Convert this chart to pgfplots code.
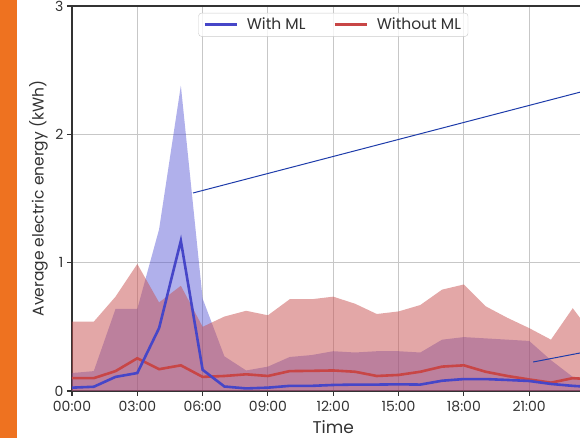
\documentclass[border=0pt]{standalone}
\usepackage{pgfplots}
\pgfplotsset{compat=1.18}
\usepackage{fontspec}
\setmainfont{Poppins}
\definecolor{mlblue}{RGB}{70,70,200}
\definecolor{mlred}{RGB}{200,70,70}
\definecolor{bandblue}{RGB}{80,80,210}
\definecolor{bandred}{RGB}{200,80,80}
\definecolor{annot}{RGB}{30,60,170}
\definecolor{barorange}{RGB}{238,114,32}
\definecolor{txt}{RGB}{50,50,50}

\pgfplotstableread{
h   bm     bu     rm     ru
0   0.026  0.14   0.10   0.54
1   0.033  0.155  0.10   0.54
2   0.11   0.64   0.155  0.735
3   0.14   0.64   0.255  0.99
4   0.49   1.26   0.17   0.69
5   1.17   2.38   0.20   0.82
6   0.165  0.72   0.11   0.50
7   0.035  0.27   0.117  0.58
8   0.02   0.16   0.13   0.625
9   0.026  0.19   0.117  0.59
10  0.04   0.265  0.155  0.715
11  0.04   0.28   0.157  0.715
12  0.047  0.31   0.16   0.735
13  0.05   0.30   0.15   0.68
14  0.05   0.31   0.117  0.60
15  0.052  0.31   0.125  0.62
16  0.05   0.30   0.15   0.67
17  0.08   0.40   0.19   0.79
18  0.093  0.42   0.20   0.83
19  0.093  0.41   0.15   0.66
20  0.086  0.40   0.117  0.57
21  0.078  0.39   0.09   0.49
22  0.055  0.24   0.065  0.40
23  0.04   0.11   0.10   0.645
24  0.03   0.08   0.09   0.42
}\data

\begin{document}
\begin{tikzpicture}
\useasboundingbox (-72pt,-47pt) rectangle (508pt,391pt);
\clip (-72pt,-47pt) rectangle (508pt,391pt);
\fill[barorange] (-72pt,-47pt) rectangle (-55pt,391pt);
\begin{axis}[
  scale only axis, width=522.5pt, height=385pt,
  xmin=0, xmax=24, ymin=0, ymax=3,
  xtick={0,3,...,21},
  xticklabels={00:00,03:00,06:00,09:00,12:00,15:00,18:00,21:00},
  ytick={0,1,2,3},
  grid=major,
  grid style={line width=1.1pt, color=black!22},
  axis line style={line width=1.3pt, color=black!80},
  tick style={line width=1.1pt, color=black!80},
  tick align=outside, tick pos=left, major tick length=5pt,
  /pgf/number format/assume math mode=true,
  ticklabel style={font=\fontsize{14}{16}\selectfont, text=txt},
  xticklabel style={yshift=-2pt},
  xlabel={Time}, ylabel={Average electric energy (kWh)},
  xlabel style={font=\fontsize{17}{20}\selectfont, text=txt, yshift=-2pt},
  ylabel style={font=\fontsize{15.5}{18}\selectfont, text=txt},
  legend style={at={(0.5,0.982)}, anchor=north, legend columns=2,
    draw=black!20, rounded corners=3pt, fill=white, fill opacity=0.8,
    draw opacity=1, text opacity=1, font=\fontsize{15.5}{17}\selectfont,
    text=txt, inner xsep=5pt, inner ysep=3pt,
    /tikz/every even column/.append style={column sep=26pt}},
  legend image code/.code={\draw[#1, line width=2.6pt] (0pt,0pt) -- (32pt,0pt);
     \path[draw=none] (0pt,0pt) -- (40pt,0pt);},
]
\addplot[draw=none, fill=bandblue, fill opacity=0.45, forget plot] table[x=h,y=bu]{\data} \closedcycle;
\addplot[draw=none, fill=bandred, fill opacity=0.5, forget plot] table[x=h,y=ru]{\data} \closedcycle;
\addlegendimage{mlblue}
\addlegendentry{With ML}
\addlegendimage{mlred}
\addlegendentry{Without ML}
\addplot[mlred, line width=2.6pt, forget plot] table[x=h,y=rm]{\data};
\addplot[mlblue, line width=2.6pt, forget plot] table[x=h,y=bm]{\data};
\draw[annot, line width=1pt] (axis cs:5.56,1.543) -- (axis cs:24.5,2.38);
\draw[annot, line width=1pt] (axis cs:21.18,0.226) -- (axis cs:24.5,0.334);
\end{axis}
\end{tikzpicture}
\end{document}
